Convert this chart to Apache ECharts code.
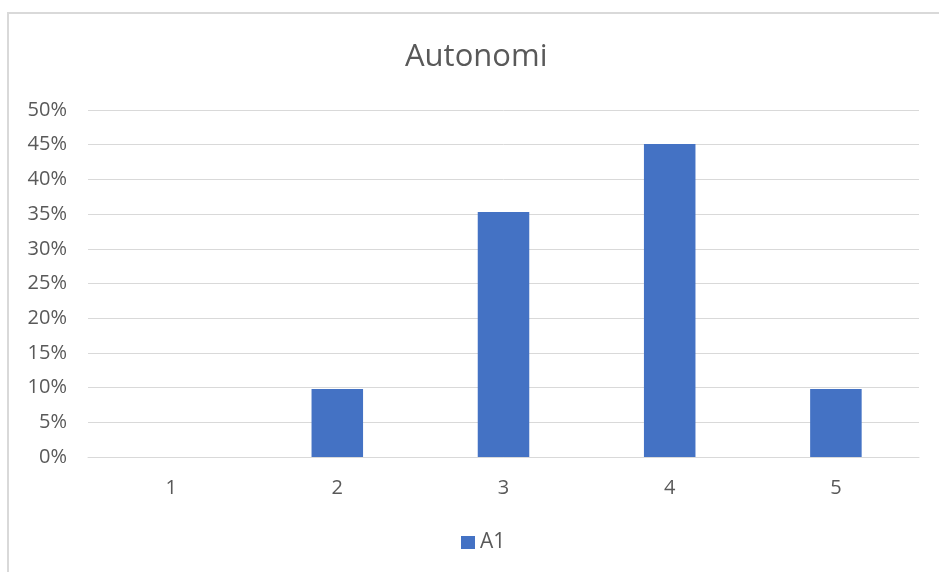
<!DOCTYPE html>
<html>
<head>
<meta charset="utf-8">
<script src="https://cdn.jsdelivr.net/npm/echarts@6/dist/echarts.min.js"></script>
<style>
  html, body { margin: 0; padding: 0; background: #ffffff; }
  #chart { width: 939px; height: 572px; }
</style>
</head>
<body>
<div id="chart"></div>
<script>
// Categories along the x axis
const categories = ['1', '2', '3', '4', '5'];
// Share of responses per category (percent)
const seriesA1 = [0, 9.80, 35.29, 45.10, 9.80];
const seriesName = 'A1';
const titleText = 'Autonomi';

const chart = echarts.init(document.getElementById('chart'), null, { renderer: 'canvas' });
const textColor = '#595959';
const font = '"Open Sans", "Noto Sans", sans-serif';

chart.setOption({
  animation: false,
  backgroundColor: '#ffffff',
  graphic: [{
    type: 'rect',
    shape: { x: 8, y: 13, width: 1000, height: 1000 },
    style: { fill: 'none', stroke: '#d9d9d9', lineWidth: 2 },
    silent: true
  }],
  title: {
    text: titleText,
    left: 405,
    top: 42,
    padding: 0,
    textStyle: { color: textColor, fontSize: 31, fontWeight: 'normal', fontFamily: font }
  },
  legend: {
    data: [seriesName],
    top: 532,
    left: 461,
    padding: 0,
    icon: 'rect',
    itemWidth: 14,
    itemHeight: 13,
    textStyle: { color: textColor, fontSize: 21, fontFamily: font }
  },
  grid: { left: 88, right: 20, top: 110, bottom: 115, containLabel: false },
  xAxis: {
    type: 'category',
    data: categories,
    axisLine: { show: true, lineStyle: { color: '#d9d9d9', width: 1 } },
    axisTick: { show: false },
    axisLabel: { color: textColor, fontSize: 20, fontFamily: font, margin: 21 }
  },
  yAxis: {
    type: 'value',
    min: 0,
    max: 50,
    interval: 5,
    axisLine: { show: false },
    axisTick: { show: false },
    splitLine: { lineStyle: { color: '#d9d9d9', width: 1 } },
    axisLabel: {
      color: textColor, fontSize: 20, fontFamily: font, margin: 21,
      formatter: v => v + '%'
    }
  },
  series: [{
    name: seriesName,
    type: 'bar',
    data: seriesA1,
    barWidth: '31%',
    itemStyle: { color: '#4472c4' }
  }]
});
</script>
</body>
</html>
